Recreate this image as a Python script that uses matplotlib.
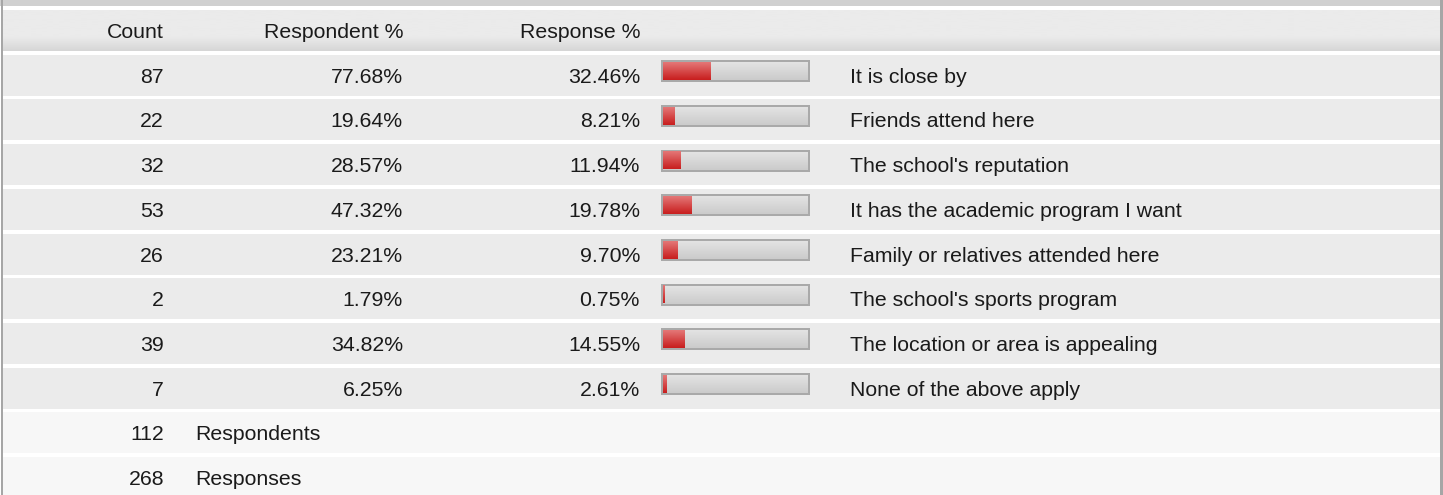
import numpy as np
import matplotlib
matplotlib.use("Agg")
import matplotlib.pyplot as plt
from matplotlib.patches import Rectangle
from matplotlib.colors import LinearSegmentedColormap

# ---- data ----
headers = ["Count", "Respondent %", "Response %"]
labels = ["It is close by", "Friends attend here", "The school's reputation",
          "It has the academic program I want", "Family or relatives attended here",
          "The school's sports program", "The location or area is appealing",
          "None of the above apply"]
counts = [87, 22, 32, 53, 26, 2, 39, 7]
respondent_pct = [77.68, 19.64, 28.57, 47.32, 23.21, 1.79, 34.82, 6.25]
response_pct = [32.46, 8.21, 11.94, 19.78, 9.70, 0.75, 14.55, 2.61]
footer_values = [112, 268]
footer_labels = ["Respondents", "Responses"]

plt.rcParams['font.family'] = ['Liberation Sans', 'DejaVu Sans']
W, H = 1443, 495
fig = plt.figure(figsize=(W / 100, H / 100), dpi=100)
ax = fig.add_axes([0, 0, 1, 1])
ax.set_xlim(0, W)
ax.set_ylim(H, 0)
ax.axis('off')

pitch = 44.7
top0 = 10
row_h = 41
fs = 15.3
tc = '#1a1a1a'

# top band
ax.add_patch(Rectangle((0, 0), W, 6, color='#d0d0d0', lw=0))

def grad_img(extent, c_top, c_bot, ramp_start=0.0, clip=None, z=1):
    n = 64
    t = np.linspace(0, 1, n)
    t = np.clip((t - ramp_start) / max(1e-6, 1 - ramp_start), 0, 1)
    ct = np.array(matplotlib.colors.to_rgb(c_top))
    cb = np.array(matplotlib.colors.to_rgb(c_bot))
    arr = ct[None, :] * (1 - t[:, None]) + cb[None, :] * t[:, None]
    arr = arr[:, None, :]
    im = ax.imshow(arr, extent=extent, aspect='auto', zorder=z, interpolation='bilinear')
    if clip is not None:
        im.set_clip_path(clip)
    return im

# header row
grad_img((3, 1440, top0 + row_h, top0), '#ebebeb', '#d6d6d6', ramp_start=0.65, z=1)
col_x = [164, 403, 640]
yc = top0 + row_h / 2
for x, h in zip(col_x, headers):
    ax.text(x, yc, h, ha='right', va='center_baseline', fontsize=fs, color=tc, zorder=5)

# data rows
bar_left, bar_right = 661, 810
inner_l, inner_r = 663, 808
inner_w = inner_r - inner_l
red_cmap_top, red_cmap_bot = '#e47777', '#c81e1e'
ys = []
for i in range(len(labels)):
    t = top0 + pitch * (i + 1)
    ax.add_patch(Rectangle((3, t), 1437, row_h, color='#ebebeb', lw=0, zorder=1))
    c = t + row_h / 2
    ys.append(c)
    ax.text(col_x[0], c, str(counts[i]), ha='right', va='center_baseline', fontsize=fs, color=tc, zorder=5)
    ax.text(col_x[1], c, f"{respondent_pct[i]:.2f}%", ha='right', va='center_baseline', fontsize=fs, color=tc, zorder=5)
    ax.text(col_x[2], c, f"{response_pct[i]:.2f}%", ha='right', va='center_baseline', fontsize=fs, color=tc, zorder=5)
    ax.text(850.5, c, labels[i], ha='left', va='center_baseline', fontsize=fs, color=tc, zorder=5)
    # bar frame
    btop = t + 5.5
    ax.add_patch(Rectangle((bar_left, btop), bar_right - bar_left, 22, color='#a9a9a9', lw=0, zorder=2))
    grad_img((inner_l, inner_r, btop + 20, btop + 2), '#e3e3e3', '#cbcbcb', ramp_start=0.0, z=3)

bar_centers = [y - 4.3 for y in ys]
bars = ax.barh(bar_centers, [p / 100 * inner_w for p in response_pct], left=inner_l,
               height=18, color='none', lw=0, zorder=4)
for b in bars:
    x0, y0 = b.get_x(), b.get_y()
    w, h = b.get_width(), b.get_height()
    grad_img((x0, x0 + w, y0 + h, y0), red_cmap_top, red_cmap_bot, ramp_start=0.0, clip=b, z=4)

# footer rows
for j, (v, lab) in enumerate(zip(footer_values, footer_labels)):
    t = top0 + pitch * (len(labels) + 1 + j)
    ax.add_patch(Rectangle((3, t), 1437, row_h, color='#f7f7f7', lw=0, zorder=1))
    c = t + row_h / 2
    ax.text(col_x[0], c, str(v), ha='right', va='center_baseline', fontsize=fs, color=tc, zorder=5)
    ax.text(195, c, lab, ha='left', va='center_baseline', fontsize=fs, color=tc, zorder=5)

# side borders
ax.add_patch(Rectangle((0.5, 0), 2.5, H, color='#a6a6a6', lw=0, zorder=6))
ax.add_patch(Rectangle((1440, 0), 3, H, color='#a6a6a6', lw=0, zorder=6))

ax.set_xlim(0, W)
ax.set_ylim(H, 0)
fig.savefig("out.png", dpi=100)
